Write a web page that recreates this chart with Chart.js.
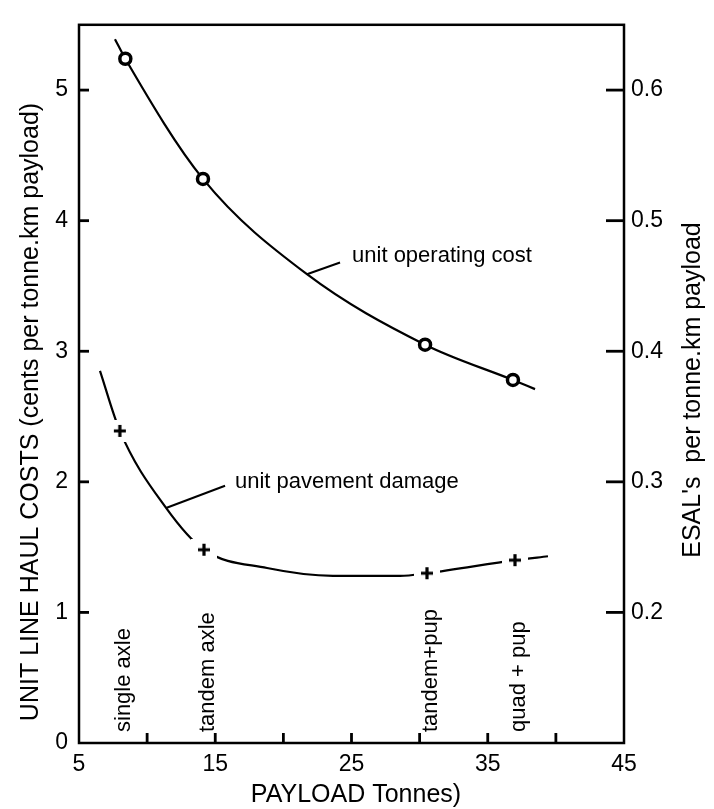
<!DOCTYPE html>
<html>
<head>
<meta charset="utf-8">
<script src="https://cdn.jsdelivr.net/npm/chart.js@4"></script>
<style>
    body { margin: 0; background: #fff; }
    #wrap { width: 714px; height: 809px; position: relative; }
</style>
</head>
<body>
<div id="wrap"><canvas id="grafico"></canvas></div>
<script>
// payload axis (tonnes)
const payloadTicks = [5, 10, 15, 20, 25, 30, 35, 40, 45];
const payloadTickLabels = [5, 15, 25, 35, 45];
const costTicks = [0, 1, 2, 3, 4, 5];
const esalTicks = [0.2, 0.3, 0.4, 0.5, 0.6];

// unit operating cost (cents per tonne.km)
const costMarkerPayload = [8.4, 14.1, 30.4, 36.85];
const costMarkerValues = [5.24, 4.32, 3.05, 2.78];
const costCurvePayload = [7.64, 8.4, 14.1, 21.73, 30.4, 36.85, 38.47];
const costCurveValues = [5.39, 5.24, 4.32, 3.59, 3.05, 2.78, 2.71];

// unit pavement damage (ESAL's per tonne.km)
const damageMarkerPayload = [8.0, 14.17, 30.54, 37.0];
const damageMarkerValues = [0.339, 0.248, 0.230, 0.240];
const damageCurvePayload = [6.54, 8.0, 11.39, 14.17, 18.8, 23.64, 28.56, 30.54, 37.0, 39.42];
const damageCurveValues = [0.385, 0.339, 0.280, 0.248, 0.234, 0.228, 0.228, 0.230, 0.240, 0.243];

const vehicleLabels = ['single axle', 'tandem axle', 'tandem+pup', 'quad + pup'];

const FONT = '"Liberation Sans", Arial, Helvetica, sans-serif';

const toPoints = (xs, ys) => xs.map((x, i) => ({ x: x, y: ys[i] }));

// plus marker on a white patch, so the curve is broken around it
const plusMarker = document.createElement('canvas');
plusMarker.width = 26;
plusMarker.height = 22;
(() => {
    const c = plusMarker.getContext('2d');
    c.fillStyle = '#fff';
    c.fillRect(0, 0, 26, 22);
    c.strokeStyle = '#000';
    c.lineWidth = 3.2;
    c.beginPath();
    c.moveTo(7, 11); c.lineTo(19, 11);
    c.moveTo(13, 5); c.lineTo(13, 17);
    c.stroke();
})();

const annotate = {
    id: 'annotate',
    afterDatasetsDraw(chart) {
        const { ctx, chartArea: a, scales } = chart;
        const x = scales.x, y = scales.y, y1 = scales.y1;
        const seg = (x0, y0, x2, y2) => {
            ctx.beginPath();
            ctx.moveTo(x0, y0);
            ctx.lineTo(x2, y2);
            ctx.stroke();
        };
        ctx.save();
        ctx.strokeStyle = '#000';
        ctx.fillStyle = '#000';

        // frame and inward tick marks
        ctx.lineWidth = 2.5;
        ctx.strokeRect(a.left, a.top, a.right - a.left, a.bottom - a.top);
        ctx.lineWidth = 2.8;
        costTicks.filter(v => v > 0).forEach(v => {
            const py = y.getPixelForValue(v);
            seg(a.left, py, a.left + 10, py);
        });
        esalTicks.forEach(v => {
            const py = y1.getPixelForValue(v);
            seg(a.right - 18, py, a.right, py);
        });
        payloadTicks.slice(1, -1).forEach(v => {
            const px = x.getPixelForValue(v);
            seg(px, a.bottom, px, a.bottom - 10);
        });

        // leader lines
        ctx.lineWidth = 2;
        seg(x.getPixelForValue(21.73), y.getPixelForValue(3.59), x.getPixelForValue(24.16), y.getPixelForValue(3.68));
        seg(x.getPixelForValue(11.39), y.getPixelForValue(1.80), x.getPixelForValue(15.72), y.getPixelForValue(1.97));

        ctx.font = '22px ' + FONT;
        ctx.textBaseline = 'alphabetic';
        ctx.textAlign = 'left';
        ctx.fillText('unit operating cost', x.getPixelForValue(25.04), y.getPixelForValue(3.68));
        ctx.fillText('unit pavement damage', x.getPixelForValue(16.45), y.getPixelForValue(1.95));

        // vehicle types, rotated
        vehicleLabels.forEach((t, i) => {
            ctx.save();
            ctx.translate(x.getPixelForValue(damageMarkerPayload[i]) + 10, a.bottom - 11);
            ctx.rotate(-Math.PI / 2);
            ctx.fillText(t, 0, 0);
            ctx.restore();
        });

        // axis titles
        ctx.font = '25px ' + FONT;
        ctx.textAlign = 'center';
        ctx.fillText('PAYLOAD Tonnes)', 356, 802);

        ctx.save();
        ctx.translate(38, 412);
        ctx.rotate(-Math.PI / 2);
        ctx.fillText('UNIT LINE HAUL COSTS (cents per tonne.km payload)', 0, 0);
        ctx.restore();

        ctx.save();
        ctx.translate(700, 390);
        ctx.rotate(-Math.PI / 2);
        ctx.fillText("ESAL's  per tonne.km payload", 0, 0);
        ctx.restore();

        ctx.restore();
    }
};

const tickFont = { family: FONT, size: 23 };

new Chart(document.getElementById('grafico'), {
    type: 'line',
    data: {
        datasets: [
            {
                data: toPoints(costMarkerPayload, costMarkerValues),
                yAxisID: 'y',
                showLine: false,
                pointStyle: 'circle',
                pointRadius: 5.5,
                pointBorderWidth: 3.5,
                pointBorderColor: '#000',
                pointBackgroundColor: '#fff',
                order: 0
            },
            {
                data: toPoints(damageMarkerPayload, damageMarkerValues),
                yAxisID: 'y1',
                showLine: false,
                pointStyle: plusMarker,
                pointRadius: 5,
                order: 0
            },
            {
                data: toPoints(costCurvePayload, costCurveValues),
                yAxisID: 'y',
                borderColor: '#000',
                borderWidth: 2.2,
                pointRadius: 0,
                cubicInterpolationMode: 'monotone',
                order: 1
            },
            {
                data: toPoints(damageCurvePayload, damageCurveValues),
                yAxisID: 'y1',
                borderColor: '#000',
                borderWidth: 2.2,
                pointRadius: 0,
                cubicInterpolationMode: 'monotone',
                order: 1
            }
        ]
    },
    options: {
        responsive: true,
        maintainAspectRatio: false,
        animation: false,
        events: [],
        layout: { padding: { top: 10, left: 0, right: 0, bottom: 0 } },
        plugins: { legend: { display: false }, tooltip: { enabled: false } },
        scales: {
            x: {
                type: 'linear',
                min: 5,
                max: 45,
                afterBuildTicks: s => { s.ticks = payloadTicks.map(v => ({ value: v })); },
                afterFit: s => { s.height = 66; },
                ticks: {
                    color: '#000',
                    font: tickFont,
                    padding: 8,
                    maxRotation: 0,
                    autoSkip: false,
                    callback: v => payloadTickLabels.includes(v) ? String(v) : ''
                },
                grid: { display: false, drawTicks: false },
                border: { display: false }
            },
            y: {
                position: 'left',
                min: 0,
                max: 5.5,
                afterBuildTicks: s => { s.ticks = costTicks.map(v => ({ value: v })); },
                afterFit: s => { s.width = 79; },
                ticks: { color: '#000', font: tickFont, padding: 11, callback: v => String(v) },
                grid: { display: false, drawTicks: false },
                border: { display: false }
            },
            y1: {
                position: 'right',
                min: 0.1,
                max: 0.65,
                afterBuildTicks: s => { s.ticks = esalTicks.map(v => ({ value: v })); },
                afterFit: s => { s.width = 90; },
                ticks: { color: '#000', font: tickFont, padding: 7, callback: v => v.toFixed(1) },
                grid: { display: false, drawTicks: false },
                border: { display: false }
            }
        }
    },
    plugins: [annotate]
});
</script>
</body>
</html>
